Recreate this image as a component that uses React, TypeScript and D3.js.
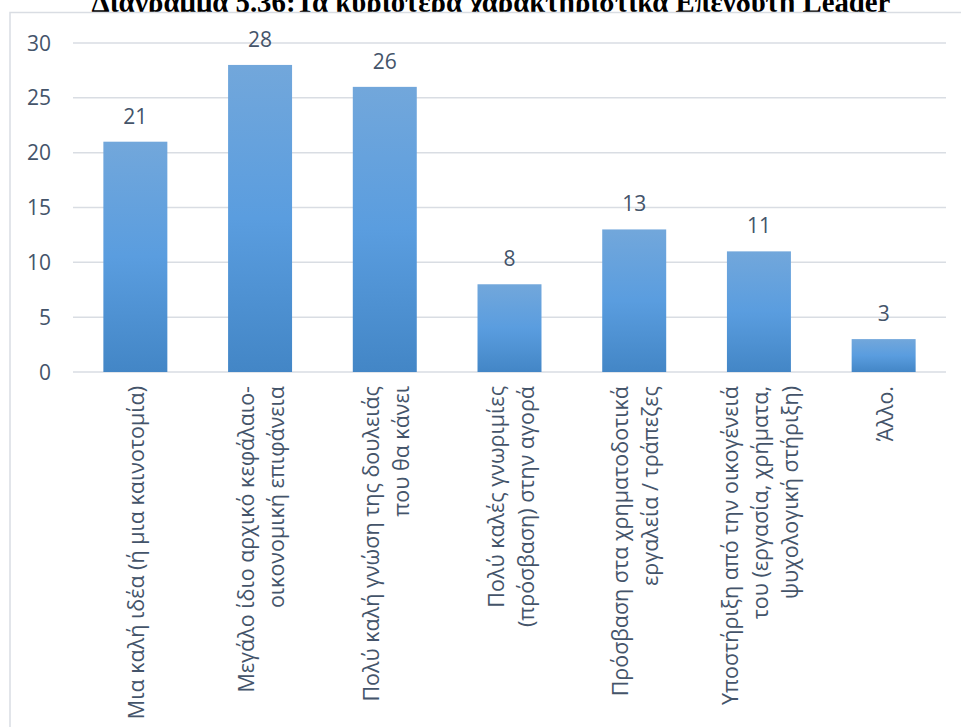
import React from 'react';
import * as d3 from 'd3';

const title = 'Διάγραμμα 5.36:Τα κυριότερα χαρακτηριστικά Επενδυτή Leader';
const categories = [
  'Μια καλή ιδέα (ή μια καινοτομία)',
  'Μεγάλο ίδιο αρχικό κεφάλαιο-\nοικονομική επιφάνεια',
  'Πολύ καλή γνώση της δουλειάς\nπου θα κάνει',
  'Πολύ καλές γνωριμίες\n(πρόσβαση) στην αγορά',
  'Πρόσβαση στα χρηματοδοτικά\nεργαλεία / τράπεζες',
  'Υποστήριξη από την οικογένειά\nτου (εργασία, χρήματα,\nψυχολογική στήριξη)',
  'Άλλο.',
];
const values = [21, 28, 26, 8, 13, 11, 3];
const yTicks = [0, 5, 10, 15, 20, 25, 30];

const W = 961;
const H = 727;
const FONT = "'Open Sans', sans-serif";
const TEXT = '#44546a';
const GRID = '#d9dde3';

export default function App() {
  const x = d3
    .scaleBand<string>()
    .domain(categories)
    .range([73, 946])
    .paddingInner(0.487)
    .paddingOuter(0.2435);
  const y = d3.scaleLinear().domain([0, 30]).range([372, 43]);
  const lh = 30;

  return (
    <svg
      width={W}
      height={H}
      style={{ position: 'absolute', left: 0, top: 0, background: '#fff' }}
    >
      <defs>
        <linearGradient id="barGrad" x1="0" y1="0" x2="0" y2="1">
          <stop offset="0%" stopColor="#72a7db" />
          <stop offset="50%" stopColor="#5a9ddf" />
          <stop offset="100%" stopColor="#4386c6" />
        </linearGradient>
      </defs>
      <text
        x={491}
        y={12}
        textAnchor="middle"
        fontFamily="'Liberation Serif', 'Times New Roman', serif"
        fontWeight="bold"
        fontSize={28.8}
        fill="#000"
      >
        {title}
      </text>
      <rect x={10} y={12.5} width={W + 10} height={H} fill="#fff" stroke={GRID} strokeWidth={1.5} />
      {yTicks.map((t) => (
        <g key={t}>
          <line x1={73} x2={946} y1={y(t)} y2={y(t)} stroke={GRID} strokeWidth={1.5} />
          <text
            x={51}
            y={y(t)}
            dy="0.36em"
            textAnchor="end"
            fontFamily={FONT}
            fontSize={21}
            fill={TEXT}
          >
            {t}
          </text>
        </g>
      ))}
      {categories.map((c, i) => {
        const bx = x(c)!;
        const cx = bx + x.bandwidth() / 2;
        const lines = c.split('\n');
        return (
          <g key={c}>
            <rect
              x={bx}
              y={y(values[i])}
              width={x.bandwidth()}
              height={y(0) - y(values[i])}
              fill="url(#barGrad)"
            />
            <text
              x={cx}
              y={y(values[i]) - 18}
              textAnchor="middle"
              fontFamily={FONT}
              fontSize={21}
              fill={TEXT}
            >
              {values[i]}
            </text>
            <text
              transform={`translate(${cx},386) rotate(-90)`}
              textAnchor="end"
              fontFamily={FONT}
              fontSize={21.5}
              fill={TEXT}
            >
              {lines.map((l, j) => (
                <tspan key={j} x={0} y={(j - (lines.length - 1) / 2) * lh + 9}>
                  {l}
                </tspan>
              ))}
            </text>
          </g>
        );
      })}
    </svg>
  );
}
